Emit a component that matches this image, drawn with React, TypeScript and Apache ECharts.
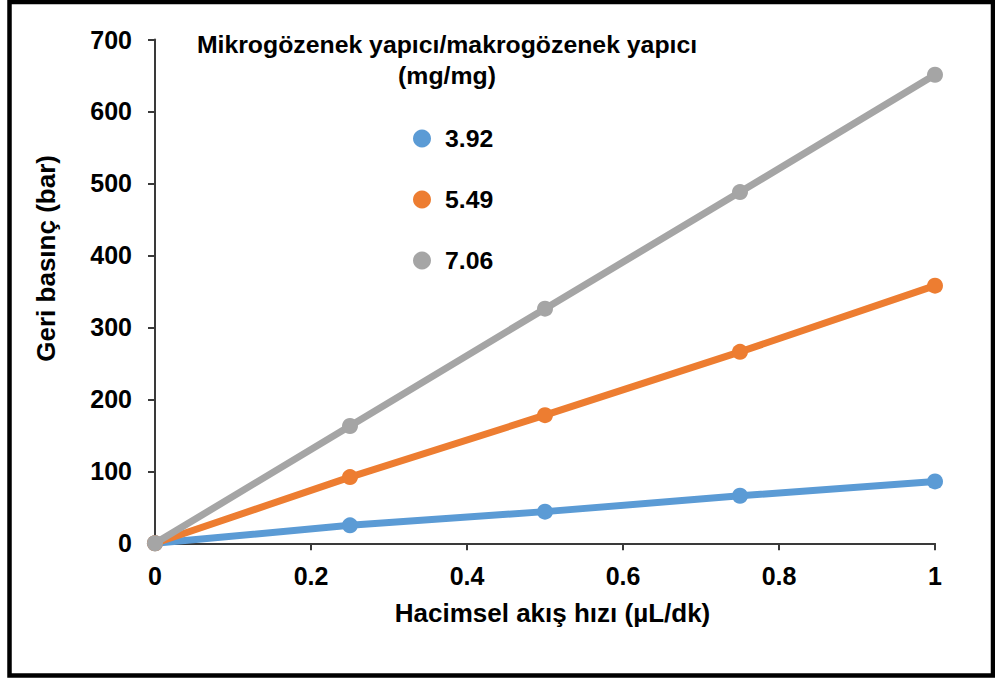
import React, { useEffect, useRef } from "react";
import * as echarts from "echarts";

const flowRates = [0, 0.25, 0.5, 0.75, 1];
const seriesNames = ["3.92", "5.49", "7.06"];
const pressure392 = [0, 25, 44, 66, 86];
const pressure549 = [0, 92, 178, 266, 358];
const pressure706 = [0, 163, 326, 488, 651];
const seriesColors = ["#5B9BD5", "#ED7D31", "#A5A5A5"];
const legendTitle = "Mikrogözenek yapıcı/makrogözenek yapıcı\n(mg/mg)";
const xAxisName = "Hacimsel akış hızı (µL/dk)";
const yAxisName = "Geri basınç (bar)";

const FONT = "'Liberation Sans', Arial, sans-serif";

export default function App() {
  const ref = useRef<HTMLDivElement>(null);
  useEffect(() => {
    if (!ref.current) return;
    const chart = echarts.init(ref.current, undefined, { renderer: "svg" });
    const allValues = [pressure392, pressure549, pressure706];
    const axisLineStyle = { color: "#3a3a3a", width: 2 };
    chart.setOption({
      animation: false,
      backgroundColor: "#ffffff",
      textStyle: { fontFamily: FONT },
      title: {
        text: legendTitle,
        left: 442,
        top: 24,
        textAlign: "center",
        textStyle: {
          fontFamily: FONT,
          fontWeight: "bold",
          fontSize: 24.8,
          lineHeight: 31,
          color: "#000",
        },
      },
      legend: {
        orient: "vertical",
        left: 408,
        top: 121,
        icon: "circle",
        itemWidth: 18,
        itemHeight: 18,
        itemGap: 36,
        data: seriesNames,
        textStyle: {
          fontFamily: FONT,
          fontWeight: "bold",
          fontSize: 24.8,
          lineHeight: 18,
          color: "#000",
          padding: [0, 0, 0, 9],
        },
      },
      grid: { left: 155, right: 60, top: 39.5, bottom: 140.7, containLabel: false },
      xAxis: {
        type: "value",
        min: 0,
        max: 1,
        interval: 0.2,
        name: xAxisName,
        nameLocation: "middle",
        nameGap: 57,
        nameTextStyle: {
          fontFamily: FONT,
          fontWeight: "bold",
          fontSize: 26,
          color: "#000",
          padding: [0, 0, 0, 15],
        },
        axisLine: { show: true, lineStyle: axisLineStyle },
        axisTick: { show: true, inside: false, length: 7, lineStyle: axisLineStyle },
        splitLine: { show: false },
        axisLabel: {
          margin: 20,
          fontFamily: FONT,
          fontWeight: "bold",
          fontSize: 25,
          color: "#000",
          formatter: (v: number) => String(Math.round(v * 10) / 10),
        },
      },
      yAxis: {
        type: "value",
        min: 0,
        max: 700,
        interval: 100,
        name: yAxisName,
        nameLocation: "middle",
        nameRotate: 90,
        nameGap: 96,
        nameTextStyle: {
          fontFamily: FONT,
          fontWeight: "bold",
          fontSize: 26,
          color: "#000",
          padding: [0, 0, 0, 66],
        },
        axisLine: { show: true, lineStyle: axisLineStyle },
        axisTick: { show: true, inside: false, length: 7, lineStyle: axisLineStyle },
        splitLine: { show: false },
        axisLabel: {
          margin: 23,
          fontFamily: FONT,
          fontWeight: "bold",
          fontSize: 25,
          color: "#000",
        },
      },
      series: seriesNames.map((name, i) => ({
        name,
        type: "line",
        data: flowRates.map((x, j) => [x, allValues[i][j]]),
        symbol: "circle",
        symbolSize: 16,
        showSymbol: true,
        color: seriesColors[i],
        lineStyle: { width: 7, color: seriesColors[i] },
        itemStyle: { color: seriesColors[i] },
        z: 2 + i,
      })),
      graphic: [
        {
          type: "rect",
          shape: { x: 9.5, y: 2, width: 983.5, height: 673.5 },
          style: { fill: "none", stroke: "#000", lineWidth: 4.5 },
          silent: true,
          z: 100,
        },
      ],
    });
    return () => chart.dispose();
  }, []);
  return (
    <div
      ref={ref}
      style={{ position: "absolute", left: 0, top: 0, width: 995, height: 684 }}
    />
  );
}
